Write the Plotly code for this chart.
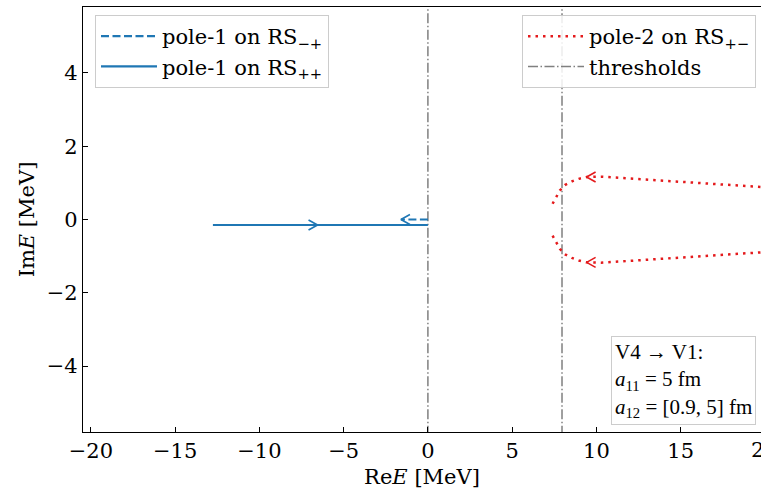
import plotly.graph_objects as go

# ---------------- data ----------------
# pole-1 on RS_{++}  (solid blue)
pole1_pp_re = [-12.76, -11.0, -9.0, -7.0, -5.0, -3.0, -1.0, 0.0]
pole1_pp_im = [-0.15, -0.15, -0.15, -0.15, -0.15, -0.15, -0.15, -0.15]
# pole-1 on RS_{-+}  (dashed blue)
pole1_mp_re = [0.0, -0.5, -1.0, -1.6]
pole1_mp_im = [0.0, 0.0, 0.0, 0.0]
# pole-2 on RS_{+-}  (dotted red), upper and lower branches
pole2_up_re = [7.40, 7.60, 7.83, 8.13, 8.55, 8.96, 9.42, 10.27, 12.0, 13.95, 16.0, 17.9, 20.0]
pole2_up_im = [0.43, 0.61, 0.79, 0.94, 1.04, 1.11, 1.16, 1.17, 1.12, 1.05, 0.99, 0.93, 0.88]
pole2_lo_re = [7.40, 7.60, 7.83, 8.13, 8.55, 8.96, 9.42, 10.27, 12.0, 13.95, 16.0, 17.9, 20.0]
pole2_lo_im = [-0.44, -0.62, -0.80, -0.95, -1.05, -1.12, -1.17, -1.18, -1.13, -1.06, -1.00, -0.94, -0.89]
# thresholds
thresholds = [0.0, 7.96]
# arrow heads along trajectories: position and direction (+1 right, -1 left)
arrow_re = [-6.55, -1.6, 9.42, 9.42]
arrow_im = [-0.15, 0.0, 1.16, -1.17]
arrow_dir = [1, -1, -1, -1]
arrow_col = ["#1f77b4", "#1f77b4", "#e41a1c", "#e41a1c"]

xticks = [-20, -15, -10, -5, 0, 5, 10, 15, 20]
yticks = [-4, -2, 0, 2, 4]

# ---------------- layout constants ----------------
W, H = 761, 489
ML, MT, MB, MR = 83, 7, 57, 0
xrange_ = [-20.47, 19.77]
yrange_ = [-5.8, 5.8]
pw, ph = W - ML - MR, H - MT - MB
px_x = pw / (xrange_[1] - xrange_[0])
px_y = ph / (yrange_[1] - yrange_[0])

FONT = "DejaVu Serif"
FS = 21
BLUE = "#1f77b4"
RED = "#e41a1c"
GRAY = "#808080"

fig = go.Figure()

# thresholds
for i, t in enumerate(thresholds):
    fig.add_trace(go.Scatter(
        x=[t, t], y=[yrange_[0] - 1, yrange_[1] + 1], mode="lines",
        line=dict(color=GRAY, width=1.5, dash="10px,2.5px,1.5px,2.5px"),
        name="thresholds", legend="legend2", showlegend=(i == 0), legendrank=2))

fig.add_trace(go.Scatter(
    x=pole1_mp_re, y=pole1_mp_im, mode="lines",
    line=dict(color=BLUE, width=2.2, dash="8px,3.5px"),
    name="pole-1 on RS<sub>−+</sub>", legend="legend", legendrank=1))
fig.add_trace(go.Scatter(
    x=pole1_pp_re, y=pole1_pp_im, mode="lines",
    line=dict(color=BLUE, width=2.2),
    name="pole-1 on RS<sub>++</sub>", legend="legend", legendrank=2))
fig.add_trace(go.Scatter(
    x=pole2_up_re, y=pole2_up_im, mode="lines",
    line=dict(color=RED, width=2.5, dash="2.5px,5px"),
    name="pole-2 on RS<sub>+−</sub>", legend="legend2", legendrank=1))
fig.add_trace(go.Scatter(
    x=pole2_lo_re, y=pole2_lo_im, mode="lines",
    line=dict(color=RED, width=2.5, dash="2.5px,5px"),
    showlegend=False, legend="legend2"))

# open arrow heads (chevrons) in pixel size converted to data units
arm_dx = 9.0 / px_x
arm_dy = 5.0 / px_y
for xa, ya, d, c in zip(arrow_re, arrow_im, arrow_dir, arrow_col):
    fig.add_trace(go.Scatter(
        x=[xa - d * arm_dx, xa, xa - d * arm_dx],
        y=[ya + arm_dy, ya, ya - arm_dy],
        mode="lines", line=dict(color=c, width=1.6),
        showlegend=False, hoverinfo="skip"))

axis_common = dict(
    showgrid=False, zeroline=False, showline=True, linecolor="black",
    linewidth=1.3, mirror=True, ticks="inside", ticklen=5, tickwidth=1.1,
    tickcolor="black", tickfont=dict(family=FONT, size=FS, color="black"))

legend_common = dict(
    bgcolor="rgba(255,255,255,0.85)", bordercolor="#cccccc", borderwidth=1,
    font=dict(family=FONT, size=FS), traceorder="normal", itemwidth=56,
    yanchor="top", y=1 - (15 - MT) / ph)

fig.update_layout(
    width=W, height=H,
    margin=dict(l=ML, r=MR, t=MT, b=MB),
    paper_bgcolor="white", plot_bgcolor="white",
    font=dict(family=FONT, size=FS, color="black"),
    xaxis=dict(range=xrange_, tickvals=xticks,
               title=dict(text="Re<i>E</i> [MeV]", font=dict(family=FONT, size=FS), standoff=10),
               **axis_common),
    yaxis=dict(range=yrange_, tickvals=yticks,
               title=dict(text="Im<i>E</i> [MeV]", font=dict(family=FONT, size=FS), standoff=6),
               **axis_common),
    legend=dict(x=(95 - ML) / pw, xanchor="left", **legend_common),
    legend2=dict(x=(756 - ML) / pw, xanchor="right", **legend_common),
    showlegend=True,
)

# info box
fig.add_annotation(
    xref="paper", yref="paper", x=(756 - ML) / pw, y=(H - MB - 425) / ph,
    xanchor="right", yanchor="bottom", align="left", showarrow=False,
    text="V4 → V1:<br><i>a</i><sub>11</sub> = 5 fm<br><i>a</i><sub>12</sub> = [0.9, 5] fm",
    font=dict(family="Liberation Serif", size=21, color="black"),
    bgcolor="white", bordercolor="#cccccc", borderwidth=1, borderpad=3)

# partially visible last tick label (axis continues past the window edge)
fig.add_annotation(
    xref="paper", yref="paper",
    x=(xticks[-1] - xrange_[0]) / (xrange_[1] - xrange_[0]), y=0,
    yshift=-4, xanchor="center", yanchor="top", showarrow=False,
    text=str(xticks[-1]), font=dict(family=FONT, size=FS, color="black"))

fig.write_html("out.html")
